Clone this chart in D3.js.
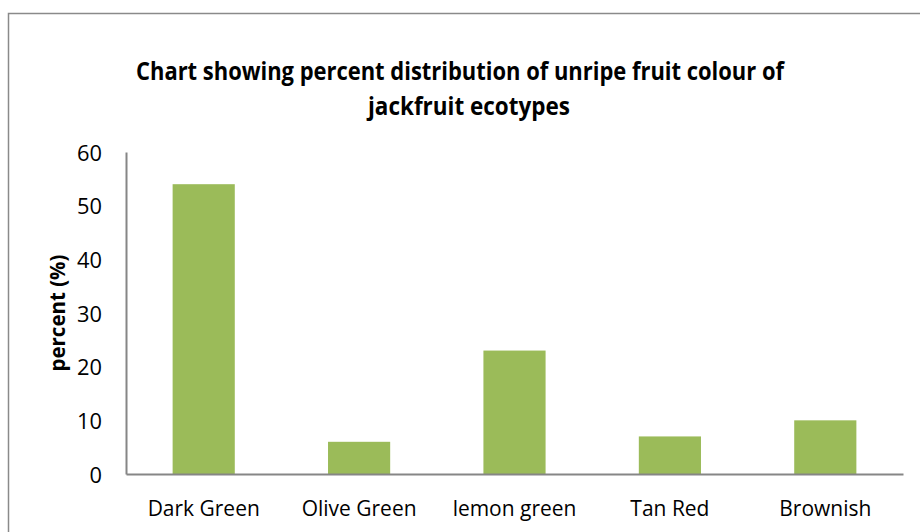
<!DOCTYPE html>
<html><head><meta charset="utf-8">
<script src="https://cdn.jsdelivr.net/npm/d3@7"></script>
<style>body{margin:0;background:#fff}svg{display:block}</style>
</head><body>
<svg id="c" width="920" height="532"></svg>
<script>
const categories = ["Dark Green", "Olive Green", "lemon green", "Tan Red", "Brownish"];
const values = [54, 6, 23, 7, 10];
const yTicks = [0, 10, 20, 30, 40, 50, 60];
const titleLines = ["Chart showing percent distribution of unripe fruit colour of", "jackfruit ecotypes"];
const yLabel = "percent (%)";

(function () {
const svg = d3.select("#c");
const font = "'Open Sans', sans-serif";
function fit(sel, base, target) {
  const w = sel.node().getComputedTextLength();
  return base * target / w;
}
// frame
svg.append("rect").attr("x", 8.5).attr("y", 13.5).attr("width", 930).attr("height", 540)
  .attr("fill", "none").attr("stroke", "#8a8a8a").attr("stroke-width", 1.5);

const mLeft = 126, mRight = 903, mTop = 152, mBottom = 474;
const x = d3.scaleBand().domain(categories).range([mLeft, mRight]).paddingInner(0.6).paddingOuter(0.3);
const y = d3.scaleLinear().domain([0, 60]).range([mBottom, mTop]);

// title (condensed to mimic Calibri bold)
const tg = svg.append("g").attr("font-family", font).attr("font-weight", "bold")
  .attr("font-size", 24.5).attr("fill", "#000").attr("text-anchor", "middle");
tg.append("text").attr("x", 460).attr("y", 80).attr("textLength", 648)
  .attr("lengthAdjust", "spacingAndGlyphs").text(titleLines[0]);
tg.append("text").attr("x", 469).attr("y", 115).attr("textLength", 202)
  .attr("lengthAdjust", "spacingAndGlyphs").text(titleLines[1]);

// bars
svg.selectAll("rect.bar").data(values).join("rect").attr("class", "bar")
  .attr("x", (d, i) => x(categories[i])).attr("width", x.bandwidth())
  .attr("y", d => y(d)).attr("height", d => y(0) - y(d)).attr("fill", "#9BBB59");

// y axis
const ya = svg.append("g").attr("transform", `translate(${mLeft},0)`)
  .call(d3.axisLeft(y).tickValues(yTicks).tickSize(0).tickPadding(24));
ya.select(".domain").attr("stroke", "#868686").attr("stroke-width", 2);
const yt = ya.selectAll("text").attr("font-family", font).attr("font-size", 18).attr("fill", "#000").attr("dy", "0.38em");
const ys = fit(yt.filter(d => d === 60), 18, 25);
yt.attr("font-size", ys);

// x axis
const xa = svg.append("g").attr("transform", `translate(0,${mBottom})`)
  .call(d3.axisBottom(x).tickSize(0).tickPadding(0));
xa.select(".domain").attr("stroke", "#868686").attr("stroke-width", 2);
const xt = xa.selectAll("text").attr("font-family", font).attr("font-size", 17).attr("fill", "#000")
  .attr("y", 35).attr("dy", "0.35em");
const xs = fit(xt.filter(d => d === "Brownish"), 17, 92);
xt.attr("font-size", xs);

// y label
const yl = svg.append("text").attr("transform", "translate(58,313) rotate(-90)").attr("text-anchor", "middle")
  .attr("dy", "0.35em")
  .attr("font-family", font).attr("font-weight", "bold").attr("font-size", 17).text(yLabel);
yl.attr("font-size", fit(yl, 17, 117));
})();
</script>
</body></html>
